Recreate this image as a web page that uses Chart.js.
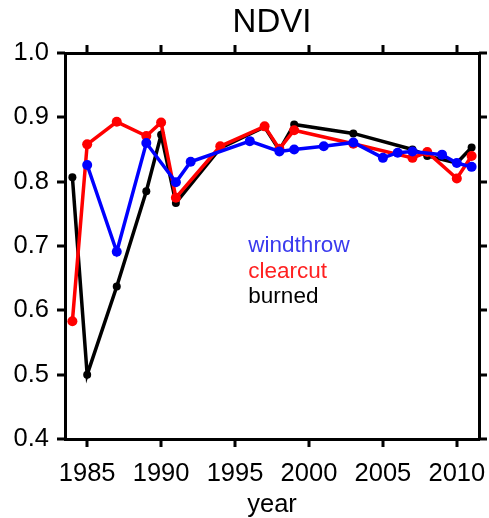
<!DOCTYPE html>
<html>
<head>
<meta charset="utf-8">
<script src="https://cdn.jsdelivr.net/npm/chart.js@4.4.1/dist/chart.umd.min.js"></script>
<style>
  html, body { margin: 0; padding: 0; background: #fff; }
  canvas { display: block; }
</style>
</head>
<body>
<canvas id="ndvi" width="489" height="518"></canvas>
<script>
const xTicks = [1985, 1990, 1995, 2000, 2005, 2010];
const yTicks = [0.4, 0.5, 0.6, 0.7, 0.8, 0.9, 1.0];

const windthrowYears = [1985, 1987, 1989, 1991, 1992, 1996, 1998, 1999, 2001, 2003, 2005, 2006, 2007, 2009, 2010, 2011];
const windthrowNdvi  = [0.826, 0.691, 0.860, 0.799, 0.831, 0.863, 0.847, 0.850, 0.855, 0.861, 0.837, 0.845, 0.847, 0.842, 0.829, 0.823];

const clearcutYears = [1984, 1985, 1987, 1989, 1990, 1991, 1994, 1997, 1998, 1999, 2003, 2007, 2008, 2010, 2011];
const clearcutNdvi  = [0.583, 0.858, 0.893, 0.871, 0.892, 0.775, 0.855, 0.886, 0.851, 0.880, 0.859, 0.837, 0.846, 0.805, 0.840];

const burnedYears = [1984, 1985, 1987, 1989, 1990, 1991, 1994, 1997, 1998, 1999, 2003, 2007, 2008, 2010, 2011];
const burnedNdvi  = [0.807, 0.500, 0.637, 0.785, 0.873, 0.767, 0.852, 0.885, 0.849, 0.889, 0.875, 0.850, 0.840, 0.829, 0.853];

const FONT = 'Liberation Sans, Arial, sans-serif';
const TICK_LEN = 8;

function points(years, values) {
    return years.map((y, i) => ({ x: y, y: values[i] }));
}

function series(label, color, years, values, radius) {
    return {
        label,
        data: points(years, values),
        borderColor: color,
        backgroundColor: color,
        borderWidth: 3.5,
        pointRadius: radius,
        pointBorderWidth: 0,
        tension: 0,
        xAxisID: 'x',
        yAxisID: 'y',
    };
}

function frameAxis(position, extra) {
    return Object.assign({
        position,
        border: { display: true, width: 3, color: '#000' },
        grid: { drawOnChartArea: false, drawTicks: false },
    }, extra);
}

const noPadding = (s) => { s.paddingLeft = 0; s.paddingRight = 0; s.paddingTop = 0; s.paddingBottom = 0; };
const hidden = { color: 'rgba(0,0,0,0)', font: { size: 1 }, padding: 0 };

// outward tick marks on all four sides of the frame
const frameTicks = {
    id: 'frameTicks',
    afterDraw(chart) {
        const { ctx, chartArea: a, scales } = chart;
        ctx.save();
        ctx.fillStyle = '#000';
        xTicks.forEach((v) => {
            const px = Math.round(scales.x.getPixelForValue(v));
            ctx.fillRect(px - 1.5, a.bottom, 3, TICK_LEN);
            ctx.fillRect(px - 1.5, a.top - TICK_LEN, 3, TICK_LEN);
        });
        yTicks.forEach((v) => {
            const py = Math.round(scales.y.getPixelForValue(v));
            ctx.fillRect(a.left - TICK_LEN, py - 1.5, TICK_LEN, 3);
            ctx.fillRect(a.right, py - 1.5, TICK_LEN, 3);
        });
        ctx.restore();
    },
};

// legend drawn inside the plot, anchored to data coordinates
const inlineLegend = {
    id: 'inlineLegend',
    afterDatasetsDraw(chart) {
        const { ctx, scales } = chart;
        const x = scales.x.getPixelForValue(1995.9);
        let y = scales.y.getPixelForValue(0.7);
        ctx.save();
        ctx.font = `22.5px ${FONT}`;
        ctx.textBaseline = 'middle';
        ctx.textAlign = 'left';
        const colors = ['#3a3aee', '#ff2020', '#000'];
        chart.data.datasets.forEach((ds, i) => {
            ctx.fillStyle = colors[i];
            ctx.fillText(ds.label, x, y);
            y += 25.5;
        });
        ctx.restore();
    },
};

new Chart(document.getElementById('ndvi'), {
    type: 'line',
    data: {
        datasets: [
            series('windthrow', '#0000ff', windthrowYears, windthrowNdvi, 5),
            series('clearcut', '#ff0000', clearcutYears, clearcutNdvi, 5),
            series('burned', '#000000', burnedYears, burnedNdvi, 4),
        ],
    },
    options: {
        responsive: false,
        animation: false,
        devicePixelRatio: 1,
        layout: { padding: 0 },
        scales: {
            x: frameAxis('bottom', {
                type: 'linear', min: 1983.5, max: 2011.5,
                afterBuildTicks: (s) => { s.ticks = xTicks.map((v) => ({ value: v })); },
                afterFit: (s) => { s.height = 79; noPadding(s); },
                ticks: { color: '#000', font: { family: FONT, size: 25.5 }, padding: 20, maxRotation: 0, autoSkip: false, callback: (v) => String(v) },
                title: { display: true, text: 'year', color: '#000', font: { family: FONT, size: 25.5, lineHeight: 1 }, padding: 0 },
            }),
            x2: frameAxis('top', {
                type: 'linear', min: 1983.5, max: 2011.5,
                afterBuildTicks: (s) => { s.ticks = xTicks.map((v) => ({ value: v })); },
                afterFit: (s) => { s.height = 53; noPadding(s); },
                ticks: hidden,
                title: { display: true, text: 'NDVI', color: '#000', font: { family: FONT, size: 33, lineHeight: 1 }, padding: { top: 6, bottom: 0 } },
            }),
            y: frameAxis('left', {
                type: 'linear', min: 0.4, max: 1.0,
                afterBuildTicks: (s) => { s.ticks = yTicks.map((v) => ({ value: v })); },
                afterFit: (s) => { s.width = 65; noPadding(s); },
                ticks: { color: '#000', font: { family: FONT, size: 25.5 }, padding: 16, callback: (v) => v.toFixed(1) },
            }),
            y2: frameAxis('right', {
                type: 'linear', min: 0.4, max: 1.0,
                afterBuildTicks: (s) => { s.ticks = yTicks.map((v) => ({ value: v })); },
                afterFit: (s) => { s.width = 10; noPadding(s); },
                ticks: hidden,
            }),
        },
        plugins: {
            legend: { display: false },
            tooltip: { enabled: false },
            title: { display: false },
        },
    },
    plugins: [inlineLegend, frameTicks],
});
</script>
</body>
</html>
